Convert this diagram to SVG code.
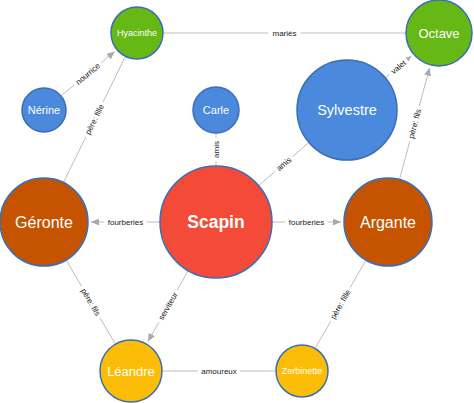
<svg xmlns="http://www.w3.org/2000/svg" width="474" height="403" viewBox="0 0 474 403">
<style>
.edge{stroke:#bdbdbd;stroke-width:1;fill:none}
.arr{marker-end:url(#ah)}
.lb rect{fill:#ffffff}
.lb text{font-family:"Liberation Sans",Arial,sans-serif;font-size:8px;fill:#222;text-anchor:middle}
.node circle{stroke:#3d6db5;stroke-width:1.5}
.node text{font-family:"Liberation Sans",Arial,sans-serif;fill:#ffffff;text-anchor:middle}
.blue{fill:#4a89dc}.green{fill:#66b814}.brown{fill:#c65300}.red{fill:#f44b39}.yellow{fill:#fbbd06}
</style>
<defs>
<marker id="ah" markerUnits="userSpaceOnUse" markerWidth="8" markerHeight="7" refX="8" refY="3.5" orient="auto">
<path d="M0,0 L8,3.5 L0,7 z" fill="#a5abb6"/>
</marker>
</defs>
<g id="connectors">
<line class="edge" x1="163" y1="33" x2="406" y2="33"/>
<line class="edge arr" x1="60.9" y1="96" x2="114.7" y2="51.5"/>
<line class="edge" x1="63.4" y1="182.5" x2="125.5" y2="56.3"/>
<line class="edge" x1="216" y1="133" x2="216" y2="166"/>
<line class="edge" x1="258.6" y1="185.6" x2="309" y2="142.5"/>
<line class="edge arr" x1="385.3" y1="77.9" x2="411.4" y2="56.1"/>
<line class="edge arr" x1="399.5" y1="179.5" x2="429.6" y2="67.8"/>
<line class="edge arr" x1="160" y1="222" x2="91" y2="222"/>
<line class="edge arr" x1="272" y1="222" x2="341" y2="222"/>
<line class="edge" x1="66.2" y1="260" x2="115.4" y2="344.2"/>
<line class="edge arr" x1="188.2" y1="270.7" x2="147.9" y2="341.5"/>
<line class="edge" x1="162" y1="371" x2="276" y2="371"/>
<line class="edge" x1="366" y1="260.1" x2="315" y2="348.5"/>
<g class="lb" transform="translate(284.5,33)"><rect x="-16" y="-5" width="32" height="10"/><text y="2.8">mariés</text></g>
<g class="lb" transform="translate(87.8,73.8) rotate(-39.6)"><rect x="-17.5" y="-5" width="35" height="10"/><text y="2.8">nourrice</text></g>
<g class="lb" transform="translate(94.5,119.4) rotate(-63.8)"><rect x="-19.5" y="-5" width="39" height="10"/><text y="2.8">père: fille</text></g>
<g class="lb" transform="translate(216,149.5) rotate(-90)"><rect x="-11.5" y="-5" width="23" height="10"/><text y="2.8">amis</text></g>
<g class="lb" transform="translate(283.8,164) rotate(-40.5)"><rect x="-11.5" y="-5" width="23" height="10"/><text y="2.8">amis</text></g>
<g class="lb" transform="translate(398.4,67) rotate(-39.9)"><rect x="-11.5" y="-5" width="23" height="10"/><text y="2.8">valet</text></g>
<g class="lb" transform="translate(414.6,123.7) rotate(-74.9)"><rect x="-18.5" y="-5" width="37" height="10"/><text y="2.8">père: fils</text></g>
<g class="lb" transform="translate(125.5,222)"><rect x="-21" y="-5" width="42" height="10"/><text y="2.8">fourberies</text></g>
<g class="lb" transform="translate(306.5,222)"><rect x="-21" y="-5" width="42" height="10"/><text y="2.8">fourberies</text></g>
<g class="lb" transform="translate(90.8,302.1) rotate(59.7)"><rect x="-18.5" y="-5" width="37" height="10"/><text y="2.8">père: fils</text></g>
<g class="lb" transform="translate(168,306.1) rotate(-60.3)"><rect x="-18.5" y="-5" width="37" height="10"/><text y="2.8">serviteur</text></g>
<g class="lb" transform="translate(219,371)"><rect x="-21" y="-5" width="42" height="10"/><text y="2.8">amoureux</text></g>
<g class="lb" transform="translate(340.5,304.3) rotate(-60)"><rect x="-19.5" y="-5" width="39" height="10"/><text y="2.8">père: fille</text></g>
</g>
<g id="node-hyacinthe" class="node"><circle class="green" cx="137" cy="33" r="26"/><text x="137" y="36.2" font-size="9">Hyacinthe</text></g>
<g id="node-octave" class="node"><circle class="green" cx="439" cy="33" r="33"/><text x="439" y="37.6" font-size="13">Octave</text></g>
<g id="node-nerine" class="node"><circle class="blue" cx="44" cy="110" r="22"/><text x="44" y="113.9" font-size="11">Nérine</text></g>
<g id="node-carle" class="node"><circle class="blue" cx="216" cy="110" r="23"/><text x="216" y="113.9" font-size="11">Carle</text></g>
<g id="node-sylvestre" class="node"><circle class="blue" cx="347" cy="110" r="50"/><text x="347" y="115.2" font-size="14.5">Sylvestre</text></g>
<g id="node-geronte" class="node"><circle class="brown" cx="44" cy="222" r="44"/><text x="44" y="227.7" font-size="16">Géronte</text></g>
<g id="node-scapin" class="node"><circle class="red" cx="216" cy="222" r="56"/><text x="216" y="228.3" font-size="17.5" font-weight="bold">Scapin</text></g>
<g id="node-argante" class="node"><circle class="brown" cx="388" cy="222" r="44"/><text x="388" y="227.7" font-size="16">Argante</text></g>
<g id="node-leandre" class="node"><circle class="yellow" cx="131" cy="371" r="31"/><text x="131" y="375.6" font-size="13">Léandre</text></g>
<g id="node-zerbinette" class="node"><circle class="yellow" cx="302" cy="371" r="26"/><text x="302" y="374.2" font-size="9">Zerbinette</text></g>
</svg>
